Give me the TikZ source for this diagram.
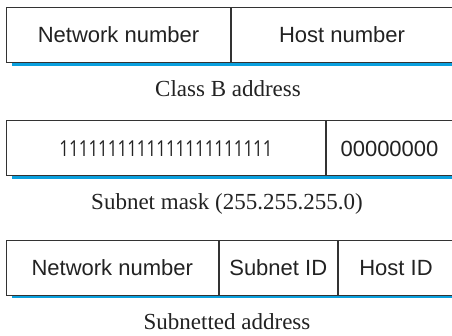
\documentclass[tikz,border=0pt]{standalone}
\usepackage{fontspec}
\usepackage{graphicx}
\setmainfont{Liberation Serif}
\newfontfamily\boxfont{Liberation Sans}
\newfontfamily\onesfont{Open Sans}
\usetikzlibrary{calc}
\definecolor{linegray}{HTML}{333333}
\definecolor{textgray}{HTML}{222222}
\definecolor{barblue}{HTML}{0AA0DE}
\begin{document}
\begin{tikzpicture}[x=1pt,y=-1pt,
  cell/.style={draw=linegray, line width=1pt, fill=white, rectangle, inner sep=0pt,
    minimum height=55pt, anchor=north west, text=textgray,
    font=\boxfont\fontsize{22}{26}\selectfont, text height=15.8pt, text depth=0pt},
  caption/.style={anchor=base, text=textgray, inner sep=0pt,
    font=\fontsize{23}{27}\selectfont},
  bar/.style={fill=barblue, draw=none}]
\useasboundingbox (0,0) rectangle (452,336);
% Class B address
\fill[bar] (12,62.5) rectangle (452,66.5);
\node[cell, minimum width=224pt] (b1) at (6,7) {Network number};
\node[cell, minimum width=221pt] (b2) at (b1.north east) {Host number};
\node[caption] (c1) at (228,97) {Class B address};
% Subnet mask
\fill[bar] (12,175.5) rectangle (452,179.5);
\node[cell, minimum width=319pt] (m1) at (6,120.5) {\scalebox{0.77}[1]{\onesfont\fontsize{22}{26}\selectfont 1111111111111111111111}};
\node[cell, minimum width=126pt] (m2) at (m1.north east) {00000000};
\node[caption] (c2) at (227,209.5) {Subnet mask (255.255.255.0)};
% Subnetted address
\fill[bar] (12,294.5) rectangle (452,298.5);
\node[cell, minimum width=211.5pt] (s1) at (6,240) {Network number};
\node[cell, minimum width=118.5pt] (s2) at (s1.north east) {Subnet ID};
\node[cell, minimum width=115pt] (s3) at (s2.north east) {Host ID};
\node[caption] (c3) at (227,330) {Subnetted address};
\end{tikzpicture}
\end{document}
